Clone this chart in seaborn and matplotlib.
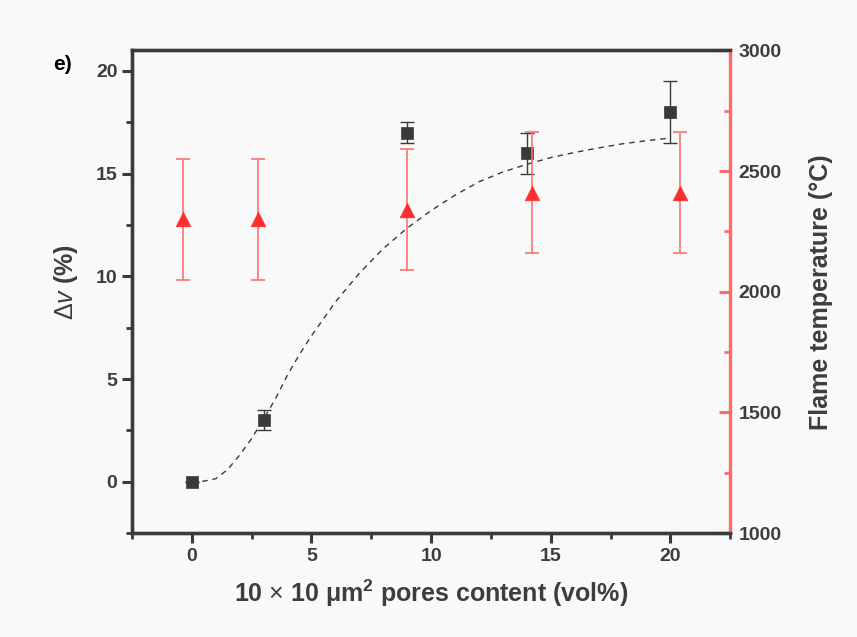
""" Recreate the pore content vs. delta v / flame temperature chart. """

import matplotlib
matplotlib.use("Agg")
import matplotlib.pyplot as plt
import pandas as pd
import seaborn as sns
from matplotlib.ticker import MultipleLocator

# squares: delta v (%)
pore_x = [0, 3, 9, 14, 20]
dv = [0, 3, 17, 16, 18]
dv_err = [0, 0.5, 0.5, 1.0, 1.5]

# triangles: flame temperature (degC), drawn slightly offset in x
temp_x = [-0.35, 2.75, 9, 14.2, 20.4]
temp = [2300, 2300, 2340, 2410, 2410]
temp_err = [250, 250, 250, 250, 250]

# dashed fit curve
fit_x = [0, 0.5, 1, 1.5, 2, 2.5, 3, 3.5, 4, 4.5, 5, 6, 7, 8, 9, 10, 11, 12, 13,
         14, 15, 16, 17, 18, 19, 20]
fit_y = [0, 0.03, 0.15, 0.6, 1.3, 2.1, 3.05, 4.05, 5.2, 6.2, 7.1, 8.75, 10.15,
         11.35, 12.35, 13.2, 13.95, 14.6, 15.08, 15.45, 15.78, 16.03, 16.25,
         16.45, 16.6, 16.73]

TXT = "#3d3d3d"
DARK = "#3a3a3a"
RED = "#ff2e2e"
RED_LIGHT = "#ff7070"
SPINE_RED = "#ff6b6b"

sns.set_theme(style="ticks")
plt.rcParams["font.family"] = ["Liberation Sans", "DejaVu Sans"]
plt.rcParams["mathtext.fontset"] = "custom"
plt.rcParams["mathtext.rm"] = "Liberation Sans"
plt.rcParams["mathtext.it"] = "Liberation Sans:italic"
plt.rcParams["mathtext.bf"] = "Liberation Sans:bold"

fig = plt.figure(figsize=(8.57, 6.37), dpi=100, facecolor="#f8f9f8")
ax = fig.add_axes([0.154, 0.163, 0.698, 0.758])
ax.set_facecolor("#f8f9f8")
ax2 = ax.twinx()

fit_df = pd.DataFrame({"x": fit_x, "y": fit_y})
sns.lineplot(data=fit_df, x="x", y="y", ax=ax, color=DARK, lw=1.0,
             linestyle=(0, (4, 3.5)), zorder=2)

ax.errorbar(pore_x, dv, yerr=dv_err, fmt="none", ecolor=DARK, elinewidth=1.0,
            capsize=5, capthick=1.0, zorder=3)
sq_df = pd.DataFrame({"x": pore_x, "y": dv})
sns.scatterplot(data=sq_df, x="x", y="y", ax=ax, marker="s", s=70,
                color=DARK, edgecolor=DARK, linewidth=0.5, zorder=4)

ax2.errorbar(temp_x, temp, yerr=temp_err, fmt="none", ecolor=RED_LIGHT,
             elinewidth=1.2, capsize=5, capthick=1.2, zorder=3)
tr_df = pd.DataFrame({"x": temp_x, "y": temp})
sns.scatterplot(data=tr_df, x="x", y="y", ax=ax2, marker="^", s=110,
                color=RED, edgecolor=RED, linewidth=0.5, zorder=4)

ax.set_xlim(-2.5, 22.5)
ax.set_ylim(-2.5, 21)
ax2.set_ylim(1000, 3000)

ax.xaxis.set_major_locator(MultipleLocator(5))
ax.xaxis.set_minor_locator(MultipleLocator(2.5))
ax.yaxis.set_major_locator(MultipleLocator(5))
ax.yaxis.set_minor_locator(MultipleLocator(2.5))
ax2.yaxis.set_major_locator(MultipleLocator(500))
ax2.yaxis.set_minor_locator(MultipleLocator(250))

for a in (ax, ax2):
    for s in a.spines.values():
        s.set_linewidth(2.4)
        s.set_color(DARK)
ax2.spines["right"].set_color(SPINE_RED)
ax.spines["right"].set_visible(False)

ax.tick_params(axis="both", which="major", direction="out", length=7,
               width=2.2, color=DARK, labelsize=14, labelcolor=TXT)
ax.tick_params(axis="both", which="minor", direction="out", length=4,
               width=2.0, color=DARK)
ax2.tick_params(axis="y", which="major", direction="in", length=8,
                width=2.2, color=SPINE_RED, labelsize=14, labelcolor=TXT,
                pad=6)
ax2.tick_params(axis="y", which="minor", direction="in", length=4,
                width=2.0, color=SPINE_RED)

for lab in ax.get_xticklabels() + ax.get_yticklabels() + ax2.get_yticklabels():
    lab.set_fontweight("bold")

ax.set_xlabel(r"10 $\times$ 10 $\mathregular{\mu m^2}$ pores content (vol%)",
              fontsize=18, fontweight="bold", color=TXT, labelpad=9)
ax.set_ylabel(r"$\Delta v$ (%)", fontsize=18, fontweight="bold", color=TXT)
ax.yaxis.set_label_coords(-0.087, 0.52)
ax2.set_ylabel("Flame temperature (°C)", fontsize=18, fontweight="bold",
               color=TXT)
ax2.yaxis.set_label_coords(1.132, 0.5)

fig.text(0.062, 0.89, "e)", fontsize=15, fontweight="bold", color="black")

plt.savefig("out.png", dpi=100, facecolor=fig.get_facecolor())
